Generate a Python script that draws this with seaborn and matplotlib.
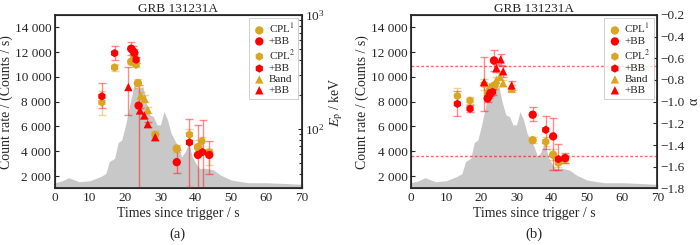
import numpy as np
import matplotlib
matplotlib.use("Agg")
import matplotlib.pyplot as plt
from matplotlib.ticker import FuncFormatter, MultipleLocator, LogLocator, NullFormatter
import seaborn as sns

# light curve (count rate)
lc_t = [0, 2, 4, 7, 10, 13, 14.5, 15.5, 17, 18, 19, 20, 21, 22, 22.5, 23, 24, 25, 26, 27,
        28, 29, 30, 31, 32, 33, 35, 36, 37, 38, 39, 40, 41, 43, 45, 47, 50, 53, 55, 60, 65, 70]
lc_rate = [1460, 1600, 1860, 1540, 1620, 1950, 2200, 3160, 3430, 4700, 4900, 6000, 7340, 8690,
           9450, 9200, 9000, 9230, 7880, 6930, 6800, 6130, 6130, 7200, 6530, 5450, 4370, 3560,
           3970, 4640, 3560, 3020, 2620, 2620, 2490, 2080, 1680, 1540, 1460, 1460, 1400, 1330]

# panel (a): peak energy Ep (keV)
a_cpl1_t = [21.7, 22.6, 23.6, 34.6, 40.6, 43.8]
a_cpl1_ep = [388, 427, 252, 67, 69, 62]
a_cpl1_lo = [370, 410, 229, 63, 58, 48]
a_cpl1_hi = [410, 445, 276, 72, 80, 66]

a_cpl1bb_t = [21.7, 22.6, 23.8, 34.6, 40.6, 43.8]
a_cpl1bb_ep = [505, 465, 160, 51, 59, 59]
a_cpl1bb_lo = [447, 430, 25, 40.7, 25, 40]
a_cpl1bb_hi = [574, 500, 244, 64.6, 109, 78]

a_cpl2_t = [13.4, 17.0, 23.1, 28.5, 38.2, 41.7]
a_cpl2_ep = [171, 346, 365, 89, 89, 78]
a_cpl2_lo = [133, 320, 350, 84, 80, 65]
a_cpl2_hi = [213, 370, 380, 95, 100, 85]

a_cpl2bb_t = [13.4, 17.0, 22.1, 23.1, 38.2, 41.9]
a_cpl2bb_ep = [193, 462, 490, 404, 76, 62.5]
a_cpl2bb_lo = [152, 404, 450, 380, 31, 25]
a_cpl2bb_hi = [252, 529, 530, 430, 122, 119]

a_band_t = [24.4, 25.5, 26.4]
a_band_ep = [196, 184, 147]
a_band_lo = [182, 171, 137]
a_band_hi = [210, 197, 157]

a_bandbb_t = [20.9, 24.2, 25.4, 26.4, 28.5]
a_bandbb_ep = [233, 145, 131, 110, 84.5]
a_bandbb_lo = [131, 138, 124, 104, 80]
a_bandbb_hi = [346, 152, 138, 116, 90]

# panel (b): low-energy index alpha
b_cpl1_t = [21.9, 22.5, 23.8, 34.6, 40.4, 43.8]
b_cpl1_a = [-0.92, -0.89, -0.85, -1.355, -1.49, -1.53]
b_cpl1_lo = [0.03, 0.03, 0.03, 0.03, 0.05, 0.04]
b_cpl1_hi = [0.03, 0.03, 0.03, 0.03, 0.05, 0.04]

b_cpl1bb_t = [21.8, 22.6, 23.6, 34.6, 40.4, 43.8]
b_cpl1bb_a = [-0.97, -0.92, -0.62, -1.12, -1.32, -1.52]
b_cpl1bb_lo = [0.03, 0.03, 0.10, 0.06, 0.31, 0.05]
b_cpl1bb_hi = [0.03, 0.03, 0.10, 0.07, 0.17, 0.05]

b_cpl2_t = [13.2, 16.8, 20.8, 23.1, 38.3, 41.9]
b_cpl2_a = [-0.947, -0.99, -0.84, -0.86, -1.37, -1.565]
b_cpl2_lo = [0.06, 0.03, 0.05, 0.03, 0.04, 0.04]
b_cpl2_hi = [0.07, 0.03, 0.05, 0.03, 0.04, 0.04]

b_cpl2bb_t = [13.2, 16.8, 22.3, 23.2, 38.3, 41.9]
b_cpl2bb_a = [-1.02, -1.065, -0.94, -0.91, -1.26, -1.53]
b_cpl2bb_lo = [0.11, 0.03, 0.03, 0.03, 0.18, 0.10]
b_cpl2bb_hi = [0.12, 0.03, 0.03, 0.03, 0.13, 0.14]

b_band_t = [24.3, 25.3, 26.2, 28.6]
b_band_a = [-0.80, -0.77, -0.83, -0.88]
b_band_lo = [0.03, 0.03, 0.03, 0.03]
b_band_hi = [0.03, 0.03, 0.03, 0.03]

b_bandbb_t = [20.8, 24.3, 25.5, 26.2, 28.6]
b_bandbb_a = [-0.82, -0.69, -0.61, -0.72, -0.85]
b_bandbb_lo = [0.27, 0.04, 0.05, 0.05, 0.04]
b_bandbb_hi = [0.23, 0.04, 0.05, 0.05, 0.04]

death_lines = [-2 / 3, -3 / 2]

sns.set_theme(style="ticks")
plt.rcParams['font.family'] = ['Liberation Serif', 'DejaVu Serif']
plt.rcParams['mathtext.fontset'] = 'stix'
plt.rcParams['axes.unicode_minus'] = True

orange = '#DAA520'
red = '#FF0000'
fs_tick = 9.5
fs_lab = 10


def draw_series(ax, t, v, lo, hi, marker, color, label, log=False):
    v = np.array(v)
    yerr = [v - np.array(lo), np.array(hi) - v] if log else [lo, hi]
    ax.errorbar(t, v, yerr=yerr, fmt='none', ecolor=color, alpha=0.45,
                elinewidth=1.0, capsize=3, capthick=1.0, zorder=3)
    sns.scatterplot(x=t, y=v, marker=marker, color=color, s=36, edgecolor='none',
                    label=label, ax=ax, zorder=4)


def base_panel(ax):
    ax.fill_between(lc_t, lc_rate, 0, color='#c8c8c8', lw=0, zorder=1)
    ax.set_xlim(0, 70)
    ax.set_ylim(1000, 15000)
    ax.xaxis.set_major_locator(MultipleLocator(10))
    ax.yaxis.set_major_locator(MultipleLocator(2000))
    ax.yaxis.set_major_formatter(FuncFormatter(lambda v, p: f"{int(v):,}".replace(",", " ")))
    ax.tick_params(direction='in', labelsize=fs_tick, length=3, width=0.8, pad=2.5)
    ax.set_xlabel('Times since trigger / s', fontsize=fs_lab, labelpad=2)
    ax.set_ylabel('Count rate / (Counts / s)', fontsize=fs_lab, labelpad=1)
    ax.set_title('GRB 131231A', fontsize=9.5, pad=2)
    for sp in ax.spines.values():
        sp.set_linewidth(0.8)


def finish_legend(ax):
    leg = ax.legend(loc='upper right', fontsize=8, frameon=True, handletextpad=0.2,
                    borderpad=0.3, labelspacing=0.1, handlelength=1.3, borderaxespad=0.3,
                    fancybox=False, edgecolor='#bbbbbb')
    leg.get_frame().set_linewidth(0.6)


fig = plt.figure(figsize=(7, 2.45), dpi=100)
ax1 = fig.add_axes([0.078, 0.231, 0.353, 0.708])
ax2 = fig.add_axes([0.587, 0.231, 0.352, 0.708])

# (a)
base_panel(ax1)
ax1r = ax1.twinx()
draw_series(ax1r, a_cpl1_t, a_cpl1_ep, a_cpl1_lo, a_cpl1_hi, 'o', orange, 'CPL$^1$', log=True)
draw_series(ax1r, a_cpl1bb_t, a_cpl1bb_ep, a_cpl1bb_lo, a_cpl1bb_hi, 'o', red, '+BB', log=True)
draw_series(ax1r, a_cpl2_t, a_cpl2_ep, a_cpl2_lo, a_cpl2_hi, 'h', orange, 'CPL$^2$', log=True)
draw_series(ax1r, a_cpl2bb_t, a_cpl2bb_ep, a_cpl2bb_lo, a_cpl2bb_hi, 'h', red, '+BB', log=True)
draw_series(ax1r, a_band_t, a_band_ep, a_band_lo, a_band_hi, '^', orange, 'Band', log=True)
draw_series(ax1r, a_bandbb_t, a_bandbb_ep, a_bandbb_lo, a_bandbb_hi, '^', red, '+BB', log=True)
ax1r.set_yscale('log')
ax1r.set_ylim(30, 1000)
ax1r.yaxis.set_minor_locator(LogLocator(base=10, subs=np.arange(2, 10)))
ax1r.yaxis.set_minor_formatter(NullFormatter())
ax1r.tick_params(axis='y', which='both', direction='in', labelsize=fs_tick, width=0.8, pad=2.5)
ax1r.tick_params(axis='y', which='major', length=3)
ax1r.tick_params(axis='y', which='minor', length=2)
ax1r.set_ylabel('$E_\\mathrm{p}$ / keV', fontsize=fs_lab, labelpad=2)
finish_legend(ax1r)

# (b)
base_panel(ax2)
ax2r = ax2.twinx()
for lv in death_lines:
    ax2r.axhline(lv, color=red, ls=(0, (2, 1.5)), lw=1.0, alpha=0.6, zorder=2)
draw_series(ax2r, b_cpl1_t, b_cpl1_a, b_cpl1_lo, b_cpl1_hi, 'o', orange, 'CPL$^1$')
draw_series(ax2r, b_cpl1bb_t, b_cpl1bb_a, b_cpl1bb_lo, b_cpl1bb_hi, 'o', red, '+BB')
draw_series(ax2r, b_cpl2_t, b_cpl2_a, b_cpl2_lo, b_cpl2_hi, 'h', orange, 'CPL$^2$')
draw_series(ax2r, b_cpl2bb_t, b_cpl2bb_a, b_cpl2bb_lo, b_cpl2bb_hi, 'h', red, '+BB')
draw_series(ax2r, b_band_t, b_band_a, b_band_lo, b_band_hi, '^', orange, 'Band')
draw_series(ax2r, b_bandbb_t, b_bandbb_a, b_bandbb_lo, b_bandbb_hi, '^', red, '+BB')
ax2r.set_ylim(-1.8, -0.2)
ax2r.yaxis.set_major_locator(MultipleLocator(0.2))
ax2r.yaxis.set_major_formatter(FuncFormatter(lambda v, p: f"{v:.1f}".replace('-', '\u2212')))
ax2r.tick_params(axis='y', direction='in', labelsize=fs_tick, length=3, width=0.8, pad=2.5)
ax2r.set_ylabel('α', fontsize=fs_lab, labelpad=2)
finish_legend(ax2r)

fig.text(0.254, 0.03, '(a)', ha='center', fontsize=fs_lab + 0.5)
fig.text(0.763, 0.03, '(b)', ha='center', fontsize=fs_lab + 0.5)

fig.savefig('out.png', dpi=100)
